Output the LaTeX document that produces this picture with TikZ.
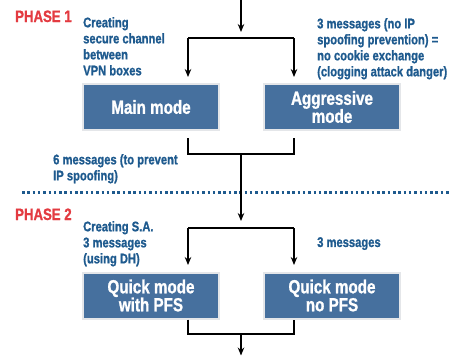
\documentclass[tikz,border=0pt]{standalone}
\usepackage{fontspec}
\setmainfont{Liberation Sans}[FakeStretch=0.8, BoldFeatures={FakeBold=1}]
\usetikzlibrary{arrows.meta}
\definecolor{lblue}{HTML}{1E5A8E}
\definecolor{boxblue}{HTML}{46709E}
\definecolor{boxedge}{HTML}{E4E6E9}
\definecolor{phred}{HTML}{E33B41}
\begin{document}
\begin{tikzpicture}[x=1pt,y=-1pt,
 modebox/.style={draw=boxedge, line width=2pt, fill=boxblue, text=white,
   font=\fontsize{19}{18}\selectfont\bfseries, align=center,
   minimum width=136pt, minimum height=46pt, inner sep=0pt},
 note/.style={text=lblue, font=\fontsize{14}{16}\selectfont\bfseries,
   align=left, anchor=north west, inner sep=0pt},
 phase/.style={text=phred, font=\fontsize{16.5}{18}\selectfont\bfseries,
   anchor=base west, inner sep=0pt},
 conn/.style={line width=1.2pt, black},
 arr/.style={conn, -{Stealth[length=8pt,width=6.5pt]}},
]
\useasboundingbox (0,0) rectangle (449,356);

\node[modebox] (main) at (151,107) {Main mode};
\node[modebox] (agg) at (332,107) {Aggressive\\mode};
\node[modebox] (qa) at (151,295.5) {Quick mode\\with PFS};
\node[modebox] (qb) at (332,295.5) {Quick mode\\no PFS};

\node[phase] (p1) at (15,22) {PHASE 1};
\node[phase] (p2) at (15,220) {PHASE 2};

\node[note] (n1) at (83,17) {Creating\\secure channel\\between\\VPN boxes};
\node[note] (n2) at (317,18) {3 messages (no IP\\spoofing prevention) =\\no cookie exchange\\(clogging attack danger)};
\node[note] (n3) at (53,154) {6 messages (to prevent\\IP spoofing)};
\node[note] (n4) at (83,221) {Creating S.A.\\3 messages\\(using DH)};
\node[note] (n5) at (317,237) {3 messages};

\coordinate (top) at (241,0);
\coordinate (s1) at (241,38);
\coordinate (a1) at (188,38);
\coordinate (b1) at (294,38);
\coordinate (j1) at (241,154);
\coordinate (s2) at (241,228);
\coordinate (a2) at (188,228);
\coordinate (b2) at (294,228);
\coordinate (j2) at (241,334);
\coordinate (bot) at (241,356);
\coordinate (dl) at (22,192);
\coordinate (dr) at (449,192);

\draw[lblue, line width=3pt, dash pattern=on 2.5pt off 2.8pt] (dl) -- (dr);

\draw[arr, shorten >=6pt] (top) -- (s1);
\draw[conn] (a1) -- (b1);
\draw[arr, shorten >=6pt] (a1) -- (a1 |- main.north);
\draw[arr, shorten >=6pt] (b1) -- (b1 |- agg.north);
\draw[conn, shorten <=7pt, shorten >=7pt] (a1 |- main.south) |- (j1) -| (b1 |- agg.south);
\draw[arr, shorten >=7pt] (j1) -- (s2);
\draw[conn] (a2) -- (b2);
\draw[arr, shorten >=6.5pt] (a2) -- (a2 |- qa.north);
\draw[arr, shorten >=6.5pt] (b2) -- (b2 |- qb.north);
\draw[conn] (a2 |- qa.south) |- (j2) -| (b2 |- qb.south);
\draw[arr, shorten >=0.5pt] (j2) -- (bot);
\end{tikzpicture}
\end{document}
